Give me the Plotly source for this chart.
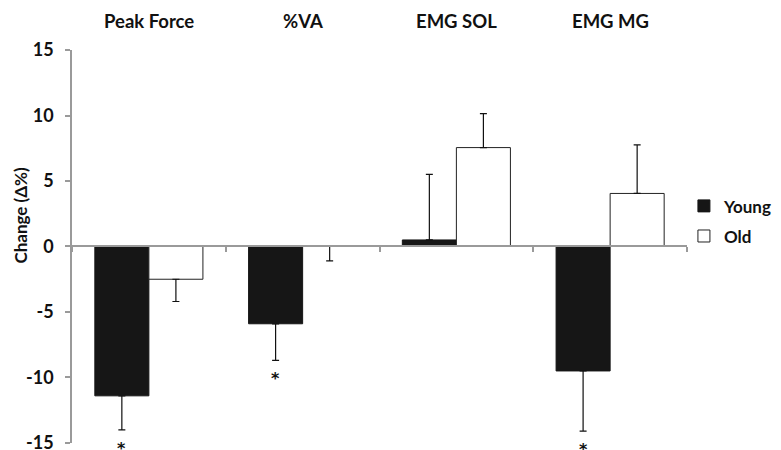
import plotly.graph_objects as go

categories = ["Peak Force", "%VA", "EMG SOL", "EMG MG"]
young_vals = [-11.4, -5.9, 0.5, -9.5]
young_err_up = [0, 0, 5.0, 0]
young_err_down = [2.6, 2.8, 0, 4.6]
old_vals = [-2.5, 0.0, 7.55, 4.05]
old_err_up = [0, 0, 2.6, 3.7]
old_err_down = [1.7, 1.1, 0, 0]
young_sig = [True, True, False, True]
y_tick_vals = [-15, -10, -5, 0, 5, 10, 15]
y_tick_text = ["-15", "-10", "-5", "0", "5", "10", "15"]
y_title = "Change (Δ%)"

FONT = "Lato"
W, H = 781, 450
ML, MR, MT, MB = 72, 94, 50, 7
BARGAP = 0.297
ymin, ymax = -15.001, 15
zero_frac = (0 - ymin) / (ymax - ymin)
plot_w = W - ML - MR
bar_px = plot_w / len(categories) * (1 - BARGAP) / 2

fig = go.Figure()
fig.add_trace(go.Bar(
    x=categories, y=young_vals, name="Young",
    marker=dict(color="#161616", line=dict(color="#161616", width=1)),
    error_y=dict(type="data", symmetric=False, array=young_err_up,
                 arrayminus=young_err_down, color="#111111", thickness=1.2, width=3.5),
    legendgroup="y",
))
fig.add_trace(go.Bar(
    x=categories, y=old_vals, name="Old",
    marker=dict(color="white", line=dict(color="#222222", width=1)),
    error_y=dict(type="data", symmetric=False, array=old_err_up,
                 arrayminus=old_err_down, color="#111111", thickness=1.2, width=3.5),
    legendgroup="o",
))

annotations = []
for c in categories:
    annotations.append(dict(x=c, xref="x", y=1, yref="paper", text="<b>%s</b>" % c,
                            showarrow=False, yanchor="middle", yshift=29,
                            font=dict(family=FONT, size=18.5, color="#111111")))
for c, v, e, s in zip(categories, young_vals, young_err_down, young_sig):
    if s:
        annotations.append(dict(x=c, xref="x", y=v - e, yref="y", text="<b>*</b>",
                                showarrow=False, yanchor="top", xshift=-bar_px / 2,
                                yshift=-7,
                                font=dict(family="DejaVu Sans", size=16, color="#111111")))
annotations.append(dict(x=0, xref="paper", xshift=-51.5, y=0.58, yref="paper",
                        text="<b>%s</b>" % y_title, textangle=-90, showarrow=False,
                        xanchor="center", yanchor="middle",
                        font=dict(family=FONT, size=17, color="#111111")))

fig.update_layout(
    width=W, height=H,
    margin=dict(l=ML, r=MR, t=MT, b=MB, autoexpand=False),
    plot_bgcolor="white", paper_bgcolor="white",
    barmode="group", bargap=BARGAP, bargroupgap=0,
    font=dict(family=FONT, color="#111111"),
    showlegend=True,
    legend=dict(x=0.995, xanchor="left", y=0.648, yanchor="top",
                traceorder="grouped", tracegroupgap=5,
                font=dict(family=FONT, size=17, color="#111111", weight="bold"),
                bgcolor="rgba(0,0,0,0)"),
    annotations=annotations,
    xaxis=dict(type="category", anchor="free", position=zero_frac, automargin=False,
               showline=True, linecolor="#9a9a9a", linewidth=1.5,
               ticks="outside", tickson="boundaries", ticklen=5, tickcolor="#9a9a9a",
               tickwidth=1.5, showticklabels=False, showgrid=False, zeroline=False),
    yaxis=dict(range=[ymin, ymax], tickvals=y_tick_vals, ticktext=y_tick_text,
               automargin=False,
               showline=True, linecolor="#9a9a9a", linewidth=1.5,
               ticks="outside", ticklen=5, tickcolor="#9a9a9a", tickwidth=1.5,
               ticklabelstandoff=8, ticklabeloverflow="allow",
               tickfont=dict(family=FONT, size=18, color="#111111", weight="bold"),
               showgrid=False, zeroline=False),
)

fig.write_html("out.html", config={"displayModeBar": False},
               post_script="document.body.style.margin='0';")
